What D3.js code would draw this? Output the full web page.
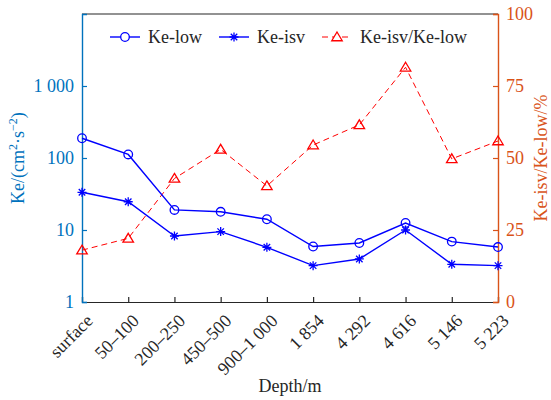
<!DOCTYPE html>
<html lang="en">
<head>
    <meta charset="UTF-8">
    <script src="https://d3js.org/d3.v7.min.js"></script>
    <title>Ke vs depth</title>
    <style>
        body { margin: 0; background: #fff; }
        text { font-family: 'Times New Roman', Times, 'Liberation Serif', 'DejaVu Serif', serif !important; }
    </style>
</head>
<body>
<div id="chart"></div>
<script>
    // data
    const depths = ['surface', '50\u2013100', '200\u2013250', '450\u2013500', '900\u20131 000', '1 854', '4 292', '4 616', '5 146', '5 223'];
    const keLow = [188, 112, 19, 17.9, 14.1, 5.9, 6.6, 12.5, 6.9, 5.8];
    const keIsv = [33.4, 24.7, 8.25, 9.5, 5.75, 3.2, 3.96, 10, 3.34, 3.2];
    const ratio = [18, 22.1, 42.9, 53, 40.3, 54.5, 61.5, 81.5, 49.7, 55.9];
    const leftTicks = [1, 10, 100, 1000];
    const leftTickLabels = ['1', '10', '100', '1 000'];
    const rightTicks = [0, 25, 50, 75, 100];

    //Variable
    const width = 551;
    const height = 400;
    const mLeft = 82, mRight = 498, mTop = 14, mBottom = 302;
    const blue = '#0000ff', red = '#ff0000';
    const leftColor = '#0072bd', rightColor = '#d95319', axisColor = '#262626';
    const font = "'Times New Roman', Times, 'Liberation Serif', 'DejaVu Serif', serif";

    const xScale = d3.scalePoint().domain(depths).range([mLeft, mRight]).padding(0);
    const yLeft = d3.scaleLog().domain([1, 10000]).range([mBottom, mTop]);
    const yRight = d3.scaleLinear().domain([0, 100]).range([mBottom, mTop]);

    const svg = d3.select('#chart').append('svg')
        .attr('width', width)
        .attr('height', height)
        .attr('font-family', font);

    //-Top border
    svg.append('line')
        .attr('x1', mLeft).attr('x2', mRight).attr('y1', mTop).attr('y2', mTop)
        .attr('stroke', axisColor).attr('stroke-width', 1.2);

    //-X axis
    const xAxis = svg.append('g')
        .attr('transform', `translate(0,${mBottom})`)
        .call(d3.axisTop(xScale).tickSize(5).tickFormat(''));
    xAxis.select('.domain').attr('stroke', axisColor).attr('stroke-width', 1.2);
    xAxis.selectAll('.tick line').attr('stroke', axisColor).attr('stroke-width', 1.2);
    svg.selectAll('text.xlab')
        .data(depths)
        .enter()
        .append('text')
        .attr('class', 'xlab')
        .attr('transform', d => `translate(${xScale(d) + 3},${mBottom + 11}) rotate(-45)`)
        .attr('text-anchor', 'end')
        .attr('dy', '0.7em')
        .attr('font-size', 18)
        .attr('fill', axisColor)
        .text(d => d);

    //-Left axis
    const yAxisL = svg.append('g')
        .attr('transform', `translate(${mLeft},0)`)
        .call(d3.axisRight(yLeft).tickValues(leftTicks).tickSize(5).tickFormat(''));
    yAxisL.select('.domain').attr('stroke', leftColor).attr('stroke-width', 1.4);
    yAxisL.selectAll('.tick line').attr('stroke', leftColor).attr('stroke-width', 1.2);
    svg.selectAll('text.ylab')
        .data(leftTicks)
        .enter()
        .append('text')
        .attr('class', 'ylab')
        .attr('x', mLeft - 8)
        .attr('y', d => yLeft(d))
        .attr('dy', '0.35em')
        .attr('text-anchor', 'end')
        .attr('font-size', 18)
        .attr('fill', leftColor)
        .text((d, i) => leftTickLabels[i]);

    //-Right axis
    const yAxisR = svg.append('g')
        .attr('transform', `translate(${mRight},0)`)
        .call(d3.axisLeft(yRight).tickValues(rightTicks).tickSize(5).tickFormat(''));
    yAxisR.select('.domain').attr('stroke', rightColor).attr('stroke-width', 1.4);
    yAxisR.selectAll('.tick line').attr('stroke', rightColor).attr('stroke-width', 1.2);
    svg.selectAll('text.rlab')
        .data(rightTicks)
        .enter()
        .append('text')
        .attr('class', 'rlab')
        .attr('x', mRight + 8)
        .attr('y', d => yRight(d))
        .attr('dy', '0.35em')
        .attr('font-size', 18)
        .attr('fill', rightColor)
        .text(d => d);

    //-Axis titles
    const lt = svg.append('text')
        .attr('transform', `translate(24,${(mTop + mBottom) / 2}) rotate(-90)`)
        .attr('text-anchor', 'middle')
        .attr('font-size', 18)
        .attr('fill', leftColor);
    lt.append('tspan').text('Ke/(cm');
    lt.append('tspan').attr('baseline-shift', 'super').attr('font-size', 12).text('2');
    lt.append('tspan').text('\u00b7s');
    lt.append('tspan').attr('baseline-shift', 'super').attr('font-size', 12).text('\u22122');
    lt.append('tspan').text(')');

    svg.append('text')
        .attr('transform', `translate(547,${(mTop + mBottom) / 2}) rotate(-90)`)
        .attr('text-anchor', 'middle')
        .attr('font-size', 18)
        .attr('fill', rightColor)
        .text('Ke-isv/Ke-low/%');

    svg.append('text')
        .attr('x', (mLeft + mRight) / 2)
        .attr('y', 392)
        .attr('text-anchor', 'middle')
        .attr('font-size', 18)
        .attr('fill', axisColor)
        .text('Depth/m');

    //-Lines
    const lineL = d3.line().x((d, i) => xScale(depths[i])).y(d => yLeft(d));
    const lineR = d3.line().x((d, i) => xScale(depths[i])).y(d => yRight(d));
    const star = r => `M${-r},0L${r},0M0,${-r}L0,${r}M${-r * 0.72},${-r * 0.72}L${r * 0.72},${r * 0.72}M${-r * 0.72},${r * 0.72}L${r * 0.72},${-r * 0.72}`;
    const tri = r => `M0,${-r}L${r * 1.05},${r * 0.75}L${-r * 1.05},${r * 0.75}Z`;

    svg.append('path').datum(ratio)
        .attr('d', lineR).attr('fill', 'none')
        .attr('stroke', red).attr('stroke-width', 1).attr('stroke-dasharray', '6,4');
    svg.append('path').datum(keLow)
        .attr('d', lineL).attr('fill', 'none')
        .attr('stroke', blue).attr('stroke-width', 1.4);
    svg.append('path').datum(keIsv)
        .attr('d', lineL).attr('fill', 'none')
        .attr('stroke', blue).attr('stroke-width', 1.4);

    svg.selectAll('circle.low')
        .data(keLow)
        .enter()
        .append('circle')
        .attr('class', 'low')
        .attr('cx', (d, i) => xScale(depths[i]))
        .attr('cy', d => yLeft(d))
        .attr('r', 4.3)
        .attr('fill', 'none').attr('stroke', blue).attr('stroke-width', 1.3);
    svg.selectAll('path.isv')
        .data(keIsv)
        .enter()
        .append('path')
        .attr('class', 'isv')
        .attr('transform', (d, i) => `translate(${xScale(depths[i])},${yLeft(d)})`)
        .attr('d', star(4.5))
        .attr('fill', 'none').attr('stroke', blue).attr('stroke-width', 1.3);
    svg.selectAll('path.rat')
        .data(ratio)
        .enter()
        .append('path')
        .attr('class', 'rat')
        .attr('transform', (d, i) => `translate(${xScale(depths[i])},${yRight(d)})`)
        .attr('d', tri(5))
        .attr('fill', 'none').attr('stroke', red).attr('stroke-width', 1.3);

    //-Legend
    const legend = [
        { name: 'Ke-low', x: 110, color: blue, dash: null, mark: 'circle' },
        { name: 'Ke-isv', x: 219, color: blue, dash: null, mark: 'star' },
        { name: 'Ke-isv/Ke-low', x: 322, color: red, dash: '6,4', mark: 'tri' }
    ];
    const ly = 37;
    legend.forEach(o => {
        const g = svg.append('g');
        g.append('line')
            .attr('x1', o.x).attr('x2', o.x + 30).attr('y1', ly).attr('y2', ly)
            .attr('stroke', o.color).attr('stroke-width', o.dash ? 1 : 1.4)
            .attr('stroke-dasharray', o.dash);
        if (o.mark === 'circle') {
            g.append('circle').attr('cx', o.x + 15).attr('cy', ly).attr('r', 4.3)
                .attr('fill', '#fff').attr('stroke', o.color).attr('stroke-width', 1.3);
        } else {
            g.append('path')
                .attr('transform', `translate(${o.x + 15},${ly})`)
                .attr('d', o.mark === 'star' ? star(4.5) : tri(5))
                .attr('fill', '#fff').attr('stroke', o.color).attr('stroke-width', 1.3);
        }
        g.append('text')
            .attr('x', o.x + 38).attr('y', ly).attr('dy', '0.35em')
            .attr('font-size', 18).attr('fill', axisColor)
            .text(o.name);
    });
</script>
</body>
</html>
